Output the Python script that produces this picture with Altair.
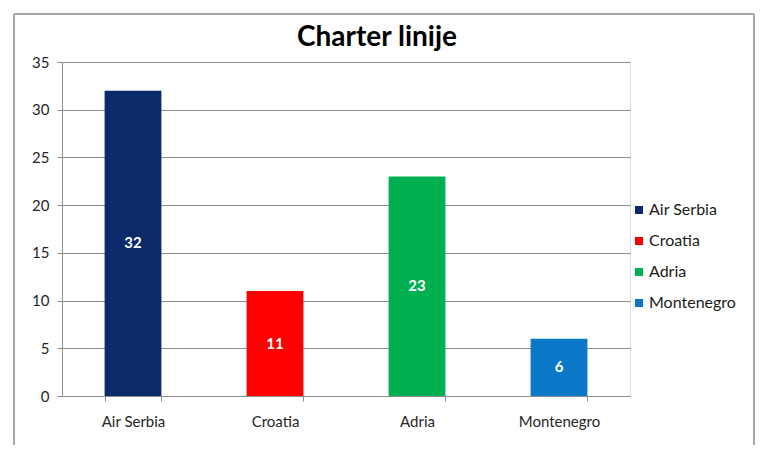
import altair as alt
import pandas as pd

airlines = ["Air Serbia", "Croatia", "Adria", "Montenegro"]
flights = [32, 11, 23, 6]
colors = ["#0B2A69", "#FF0000", "#00B050", "#0B77C8"]
title_text = ["Charter linije"]

df = pd.DataFrame({"airline": airlines, "flights": flights})
title_df = pd.DataFrame({"title": title_text})

FONT = "Lato"
GRAY = "#8C8C8C"

x_enc = alt.X(
    "airline:N",
    sort=airlines,
    scale=alt.Scale(paddingInner=0.6, paddingOuter=0.3),
    axis=alt.Axis(
        title=None, labelAngle=0, tickBand="extent", domainColor=GRAY,
        tickColor=GRAY, tickSize=5, labelFontSize=15, labelColor="#262626",
        labelFont=FONT, labelPadding=13, grid=False,
    ),
)

bars = alt.Chart(df).mark_bar().encode(
    x=x_enc,
    y=alt.Y(
        "flights:Q",
        scale=alt.Scale(domain=[0, 35], nice=False),
        axis=alt.Axis(
            title=None, values=[0, 5, 10, 15, 20, 25, 30, 35], grid=True,
            gridColor=GRAY, domainColor=GRAY, tickColor=GRAY, tickSize=5,
            labelFontSize=15, labelColor="#262626", labelFont=FONT,
            labelPadding=8,
        ),
    ),
    color=alt.Color(
        "airline:N",
        sort=airlines,
        scale=alt.Scale(domain=airlines, range=colors),
        legend=alt.Legend(
            title=None, orient="none", legendX=569, legendY=140,
            symbolType="square", symbolSize=64, symbolStrokeWidth=0,
            labelFontSize=16, labelFont=FONT, labelColor="#1a1a1a",
            rowPadding=15, labelOffset=2,
        ),
    ),
)

labels = alt.Chart(df).transform_calculate(
    mid="datum.flights / 2"
).mark_text(
    color="white", fontWeight="bold", fontSize=15, font=FONT, baseline="middle"
).encode(
    x=alt.X("airline:N", sort=airlines),
    y=alt.Y("mid:Q"),
    text=alt.Text("flights:Q"),
)

title = alt.Chart(title_df).mark_text(
    fontSize=28, font=FONT, fontWeight="bold", color="#000000",
    align="center", baseline="alphabetic",
).encode(x=alt.value(315), y=alt.value(-16), text="title:N")

border_style = dict(color="#A6A6A6", strokeWidth=1.5)
border = alt.layer(
    alt.Chart(df).mark_rule(**border_style).encode(
        x=alt.value(-48), x2=alt.value(692), y=alt.value(-48)),
    alt.Chart(df).mark_rule(**border_style).encode(
        x=alt.value(-48), y=alt.value(-48), y2=alt.value(383)),
    alt.Chart(df).mark_rule(**border_style).encode(
        x=alt.value(692), y=alt.value(-48), y2=alt.value(383)),
)

chart = alt.layer(border, bars, labels, title).properties(
    width=568,
    height=334,
    padding={"left": 54, "top": 54, "right": 130, "bottom": 50},
    autosize=alt.AutoSizeParams(type="none"),
).configure_view(stroke=None).configure(background="white")

chart.save("out.html", embed_options={"renderer": "svg", "actions": False})
